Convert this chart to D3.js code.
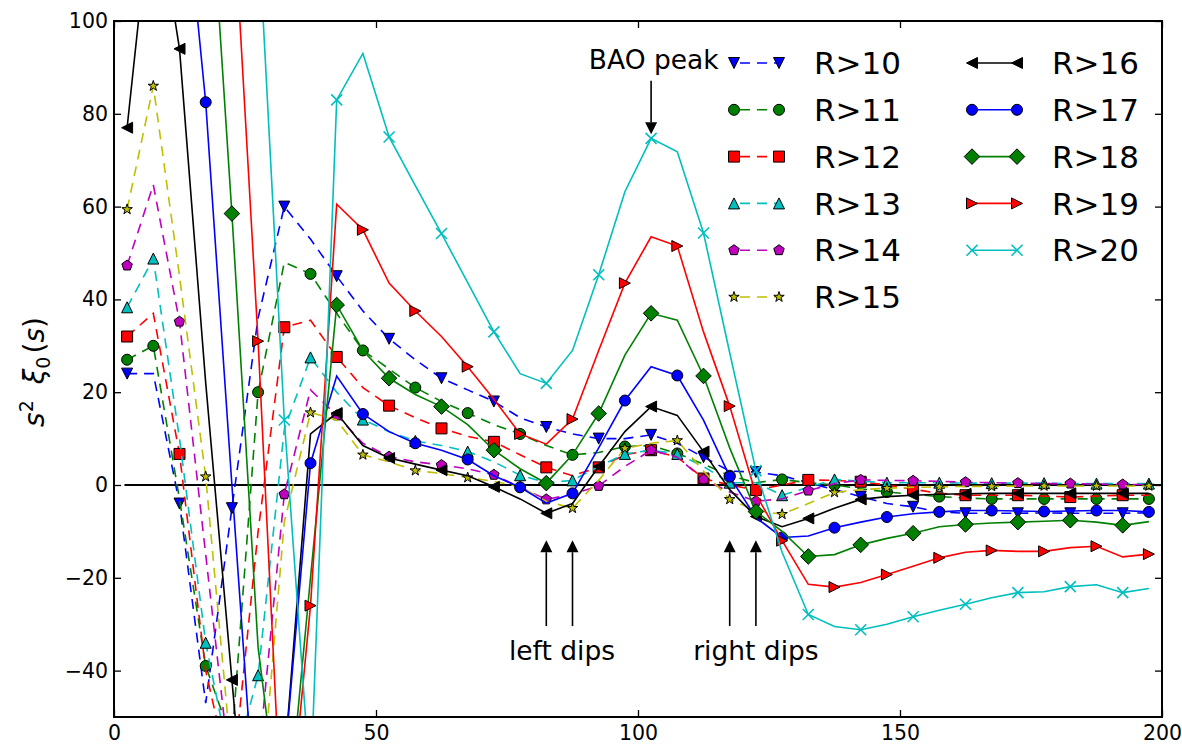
<!DOCTYPE html>
<html>
<head>
<meta charset="utf-8">
<script src="https://cdn.jsdelivr.net/npm/d3@7"></script>
<style>
  body { margin: 0; background: #ffffff; }
  svg { display: block; font-family: "DejaVu Sans", sans-serif; }
</style>
</head>
<body>
<script>
// bin centres of the separation s
var S = [2.5, 7.5, 12.5, 17.5, 22.5, 27.5, 32.5, 37.5, 42.5, 47.5,
         52.5, 57.5, 62.5, 67.5, 72.5, 77.5, 82.5, 87.5, 92.5, 97.5,
         102.5, 107.5, 112.5, 117.5, 122.5, 127.5, 132.5, 137.5, 142.5, 147.5,
         152.5, 157.5, 162.5, 167.5, 172.5, 177.5, 182.5, 187.5, 192.5, 197.5];

// s^2 xi_0(s), one array per radius cut
var R10 = [24, 24, -4, -47, -5, 36, 60, 53, 45, 37.5, 31.5, 27, 23, 20.5, 18, 14.5, 12.5, 11, 10, 10,
           10.8, 9, 6, 3, 2.8, 2, 0.5, -1, -2.5, -4, -4.7, -5.8, -6.1, -6.1, -6.1, -6, -6.1, -6.1, -6.1, -6];
var R11 = [27, 30, -3, -39, -55, 20, 48, 45.5, 37, 29, 25, 21, 18, 15.5, 13, 11, 8.5, 6.5, 7, 8.3,
           8.5, 6.8, 4.5, 2, 0.5, 1.2, 0.5, 0, -0.8, -1.5, -2, -2.5, -2.8, -3, -3, -3, -3, -3, -3, -3];
var R12 = [32, 37, 6.7, -40, -65, -10, 34, 35.5, 27.6, 21, 17.1, 14.5, 12.2, 10.5, 9.3, 6.5, 3.8, 2, 3.8, 6.5,
           7.5, 6, 1.4, 0, -1.1, 0, 1.1, 1, 0.7, 0, -0.9, -1.8, -2.2, -2.2, -2.2, -2.4, -2.6, -2.4, -2.2, -2.2];
var R13 = [38.3, 48.8, 10, -34, -62, -41, 12, 27.5, 20, 14.1, 11.5, 9.5, 8.5, 7.2, 5, 2.1, 0.5, 1, 4, 6.7,
           7.5, 6.7, 4, 0.5, 0.5, -2.2, -0.5, 1.2, 0.8, 0.5, 0.5, 0.5, 0.4, 0.4, 0.4, 0.4, 0.3, 0.3, 0.3, 0.3];
var R14 = [47.3, 64.7, 35.2, -15, -65, -60, -2, 20.5, 15, 9, 6.1, 5, 4.3, 3.5, 2.2, -0.5, -3.1, -2, -0.2, 4,
           7.5, 6, 1.2, -1.5, -3.5, -3, -1.2, 0.3, 1.1, 1, 0.9, 0.8, 0.6, 0.5, 0.4, 0.3, 0.3, 0.2, 0.1, 0.1];
var R15 = [59.4, 86, 45, 1.8, -60, -75, -8, 15.6, 14, 6.5, 5, 3.1, 2.5, 1.6, 0.8, -0.4, -3.5, -5, 1, 7.9,
           9, 9.6, 3, -3.1, -5.5, -6.3, -4, -1.6, -1, -0.7, -0.5, -0.4, -0.3, -0.3, -0.2, -0.2, -0.2, -0.2, -0.2, -0.2];
var R16 = [77, 130, 94, 22, -42, -105, -60, 11, 15.5, 8.5, 5.8, 4.5, 3.2, 2, -0.4, -3, -6.1, -4, 4, 11.5,
           16.9, 15, 7.2, -1, -6.8, -9, -7.2, -5, -3.1, -2.5, -2.2, -2, -1.9, -1.8, -1.8, -1.8, -1.8, -1.8, -1.8, -1.8];
var R17 = [150, 170, 140, 82.5, 0, -80, -60, 4.7, 23.5, 15.3, 11.5, 9, 7.5, 5.5, 2, -0.5, -3.9, -1.8, 8, 18.2,
           25.5, 23.6, 14, 1.8, -7, -11.3, -11, -9.2, -8, -6.9, -6.2, -5.8, -5.5, -5.5, -5.6, -5.7, -5.6, -5.5, -5.5, -5.8];
var R18 = [250, 220, 180, 145, 58.5, -35, -80, -20, 38.8, 29, 23, 19.5, 16.9, 13, 7.5, 3.5, 0.4, 6.5, 15.4, 28,
           37, 35.5, 23.5, 8, -5.7, -10, -15.4, -15, -12.9, -11.5, -10.4, -9, -8.5, -8.2, -8, -7.8, -7.6, -8, -8.7, -7.9];
var R19 = [300, 260, 220, 180, 130, 31, -85, -26, 60.5, 55, 43.5, 37.5, 32, 25.5, 18.5, 11, 8.8, 14.2, 29, 43.5,
           53.5, 51.5, 33, 17, -2, -12, -21.4, -22, -21, -19.3, -17.5, -15.7, -14.5, -14.1, -14.3, -14.3, -13.5, -13.2, -15.5, -14.9];
var R20 = [300, 280, 250, 220, 170, 121, 14, -65, 83, 93, 75, 64.5, 54.2, 43.6, 33, 24, 21.9, 29, 45.3, 63.2,
           74.7, 71.8, 54.3, 28.5, 3.1, -14.5, -27.9, -30.5, -31.2, -30, -28.4, -27, -25.7, -24.3, -23.2, -23, -21.9, -21.5, -23.2, -22.3];

var LABELS = ["R>10", "R>11", "R>12", "R>13", "R>14", "R>15", "R>16", "R>17", "R>18", "R>19", "R>20"];
var X_TICKS = [0, 50, 100, 150, 200];
var Y_TICKS = [-40, -20, 0, 20, 40, 60, 80, 100];
var ZERO_LINE_X = [2, 200];

// matplotlib classic look
var COLORS = ["#0000ff", "#008000", "#ff0000", "#00bfbf", "#bf00bf", "#bfbf00",
              "#000000", "#0000ff", "#008000", "#ff0000", "#00bfbf"];
var MARKERS = ["v", "o", "s", "^", "p", "*", "<", "o", "D", ">", "x"];
var MS = 11;

var width = 1182, height = 745;
var plot = { left: 114, right: 1162, top: 21, bottom: 717 };

var x = d3.scaleLinear().domain([0, 200]).range([plot.left, plot.right]);
var y = d3.scaleLinear().domain([-50, 100]).range([plot.bottom, plot.top]);

var svg = d3.select("body").append("svg")
    .attr("width", width)
    .attr("height", height);

svg.append("defs").append("clipPath")
    .attr("id", "clip")
  .append("rect")
    .attr("x", plot.left)
    .attr("y", plot.top)
    .attr("width", plot.right - plot.left)
    .attr("height", plot.bottom - plot.top);

function markerPath(shape, ms) {
  var h = ms / 2, pts;
  switch (shape) {
    case "o":
      return "M" + h + ",0A" + h + "," + h + " 0 1,1 " + (-h) + ",0A" + h + "," + h + " 0 1,1 " + h + ",0Z";
    case "x":
      return "M" + (-h) + "," + (-h) + "L" + h + "," + h + "M" + (-h) + "," + h + "L" + h + "," + (-h);
    case "v": pts = [[-h, -h], [h, -h], [0, h]]; break;
    case "^": pts = [[0, -h], [h, h], [-h, h]]; break;
    case "<": pts = [[-h, 0], [h, -h], [h, h]]; break;
    case ">": pts = [[h, 0], [-h, h], [-h, -h]]; break;
    case "s": pts = [[-h, -h], [h, -h], [h, h], [-h, h]]; break;
    case "D":
      var d = h * Math.SQRT2;
      pts = [[0, -d], [d, 0], [0, d], [-d, 0]]; break;
    case "p":
      pts = d3.range(5).map(function(k) {
        var a = -Math.PI / 2 + k * 2 * Math.PI / 5;
        return [h * Math.cos(a), h * Math.sin(a)];
      }); break;
    case "*":
      pts = d3.range(10).map(function(k) {
        var a = -Math.PI / 2 + k * Math.PI / 5, r = (k % 2 === 0) ? h : h * 0.381966;
        return [r * Math.cos(a), r * Math.sin(a)];
      }); break;
  }
  return "M" + pts.join("L") + "Z";
}

function drawMarker(g, shape, color, px, py) {
  g.append("path")
    .attr("transform", "translate(" + px + "," + py + ")")
    .attr("d", markerPath(shape, MS))
    .attr("fill", shape === "x" ? "none" : color)
    .attr("stroke", shape === "x" ? color : "#000")
    .attr("stroke-width", shape === "x" ? 1.6 : 1)
    .attr("stroke-linejoin", "miter");
}

var plotArea = svg.append("g").attr("clip-path", "url(#clip)");

// horizontal zero line
plotArea.append("line")
    .attr("x1", x(ZERO_LINE_X[0]))
    .attr("x2", x(ZERO_LINE_X[1]))
    .attr("y1", y(0))
    .attr("y2", y(0))
    .attr("stroke", "#000")
    .attr("stroke-width", 1.8);

var series = [R10, R11, R12, R13, R14, R15, R16, R17, R18, R19, R20];

var line = d3.line()
    .x(function(d, i) { return x(S[i]); })
    .y(function(d) { return y(d); });

series.forEach(function(vals, k) {
  var g = plotArea.append("g");
  g.append("path")
    .datum(vals)
    .attr("d", line)
    .attr("fill", "none")
    .attr("stroke", COLORS[k])
    .attr("stroke-width", 1.6)
    .attr("stroke-dasharray", k < 6 ? "10,7" : null);

  // every other point carries a marker, alternating between the curves
  vals.forEach(function(v, i) {
    if (i % 2 === k % 2 || i === 0) {
      drawMarker(g, MARKERS[k], COLORS[k], x(S[i]), y(v));
    }
  });
});

// axes: ticks pointing inwards on all four sides
var tickFont = function(sel) {
  sel.selectAll("text")
    .attr("font-family", "DejaVu Sans, sans-serif")
    .attr("font-size", 20.5)
    .attr("fill", "#000");
  sel.selectAll("line").attr("stroke", "#000").attr("stroke-width", 1.3);
  sel.select(".domain").remove();
};

svg.append("g")
    .attr("transform", "translate(0," + plot.bottom + ")")
    .call(d3.axisBottom(x).tickValues(X_TICKS).tickSizeInner(-7).tickSizeOuter(0).tickPadding(8).tickFormat(d3.format("d")))
    .call(tickFont);

svg.append("g")
    .attr("transform", "translate(0," + plot.top + ")")
    .call(d3.axisTop(x).tickValues(X_TICKS).tickSizeInner(-7).tickSizeOuter(0).tickFormat(""))
    .call(tickFont);

svg.append("g")
    .attr("transform", "translate(" + plot.left + ",0)")
    .call(d3.axisLeft(y).tickValues(Y_TICKS).tickSizeInner(-7).tickSizeOuter(0).tickPadding(6).tickFormat(d3.format("d")))
    .call(tickFont);

svg.append("g")
    .attr("transform", "translate(" + plot.right + ",0)")
    .call(d3.axisRight(y).tickValues(Y_TICKS).tickSizeInner(-7).tickSizeOuter(0).tickFormat(""))
    .call(tickFont);

svg.append("rect")
    .attr("x", plot.left)
    .attr("y", plot.top)
    .attr("width", plot.right - plot.left)
    .attr("height", plot.bottom - plot.top)
    .attr("fill", "none")
    .attr("stroke", "#000")
    .attr("stroke-width", 2);

// y label: s^2 xi_0(s)
var ylab = svg.append("text")
    .attr("transform", "translate(44," + 372 + ") rotate(-90)")
    .attr("text-anchor", "middle")
    .attr("font-family", "DejaVu Sans, sans-serif")
    .attr("font-size", 28)
    .attr("fill", "#000");
ylab.append("tspan").attr("font-style", "italic").text("s");
ylab.append("tspan").attr("font-size", 19).attr("dy", -11).text("2");
ylab.append("tspan").attr("dy", 11).attr("font-style", "italic").attr("dx", 16).text("\u03be");
ylab.append("tspan").attr("font-size", 19).attr("dy", 6).text("0");
ylab.append("tspan").attr("dy", -6).attr("dx", 3).text("(");
ylab.append("tspan").attr("font-style", "italic").text("s");
ylab.append("tspan").text(")");

// legend, two columns without frame
var legend = svg.append("g");
LABELS.forEach(function(label, k) {
  var col = k < 6 ? 0 : 1, row = k < 6 ? k : k - 6;
  var x0 = col === 0 ? 734 : 972, x1 = x0 + 45, ly = 63 + row * 46.8;
  legend.append("line")
    .attr("x1", x0).attr("x2", x1)
    .attr("y1", ly).attr("y2", ly)
    .attr("stroke", COLORS[k])
    .attr("stroke-width", 1.6)
    .attr("stroke-dasharray", k < 6 ? "10,7" : null)
    .attr("stroke-dashoffset", k < 6 ? -6 : null);
  drawMarker(legend, MARKERS[k], COLORS[k], x0, ly);
  drawMarker(legend, MARKERS[k], COLORS[k], x1, ly);
  legend.append("text")
    .attr("x", x1 + 35)
    .attr("y", ly)
    .attr("dy", "0.36em")
    .attr("font-size", 31)
    .attr("fill", "#000")
    .text(label);
});

// annotations
var notes = svg.append("g").attr("fill", "#000");

function arrow(sx, vTail, vTip) {
  var px = x(sx), yTail = y(vTail), yTip = y(vTip);
  var dir = yTip > yTail ? 1 : -1, head = 12;
  notes.append("line")
    .attr("x1", px).attr("x2", px)
    .attr("y1", yTail).attr("y2", yTip - dir * head)
    .attr("stroke", "#000")
    .attr("stroke-width", 1.6);
  notes.append("path")
    .attr("d", "M" + px + "," + yTip + "L" + (px - 6) + "," + (yTip - dir * head) + "L" + (px + 6) + "," + (yTip - dir * head) + "Z");
}

function note(sx, v, txt) {
  notes.append("text")
    .attr("x", x(sx))
    .attr("y", y(v))
    .attr("text-anchor", "middle")
    .attr("font-size", 26.5)
    .text(txt);
}

note(103, 89.7, "BAO peak");
arrow(102.5, 87.1, 75.6);

note(85.5, -37.7, "left dips");
arrow(82.5, -30.4, -11.9);
arrow(87.5, -30.4, -11.9);

note(122.5, -37.7, "right dips");
arrow(117.5, -30.4, -11.9);
arrow(122.5, -30.4, -11.9);
</script>
</body>
</html>
